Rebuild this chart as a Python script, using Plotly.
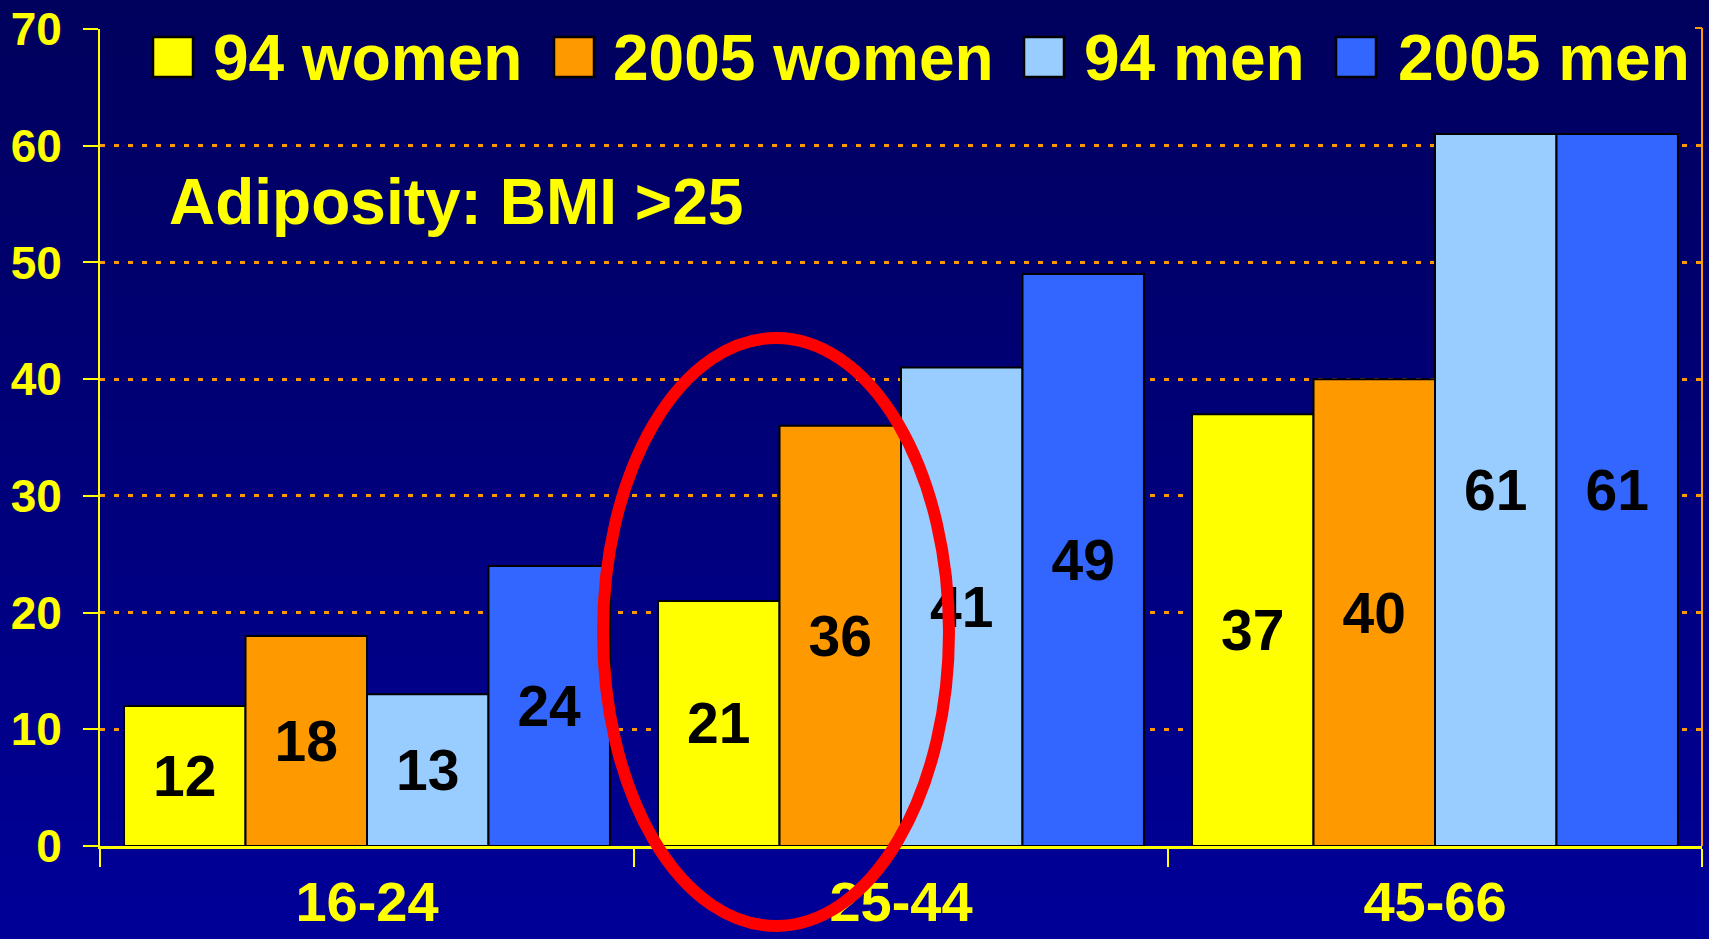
import plotly.graph_objects as go

W, H = 1709, 939
L, R, T, B = 100, 7, 29, 93          # plot area: x 100..1702, y 29..846

age_groups = ["16-24", "25-44", "45-66"]
series_names = ["94 women", "2005 women", "94 men", "2005 men"]
women_94 = [12, 21, 37]
women_2005 = [18, 36, 40]
men_94 = [13, 41, 61]
men_2005 = [24, 49, 61]
y_ticks = [0, 10, 20, 30, 40, 50, 60, 70]

colors = ["#FFFF00", "#FF9900", "#99CCFF", "#3366FF"]
FONT = "Liberation Sans, Arial, sans-serif"
YELLOW = "#FFFF00"
ORANGE = "#FF9900"

pw, ph = W - L - R, H - T - B


def px_x(px):
    return (px - L) / pw


def px_y(py):
    return (H - B - py) / ph


fig = go.Figure()
for name, vals, col in zip(series_names, [women_94, women_2005, men_94, men_2005], colors):
    fig.add_trace(go.Bar(
        x=age_groups, y=vals, name=name, text=vals, texttemplate="%{y}",
        textposition="inside", insidetextanchor="middle", constraintext="none",
        textfont=dict(family=FONT, size=57, color="black", weight="bold"),
        marker=dict(color=col, line=dict(color="black", width=2)),
        showlegend=False,
    ))

shapes = []
# vertical background gradient
n = 47
for i in range(n):
    y0, y1 = i * H / n, (i + 1) * H / n
    b = int(round(92 + 60 * (i + 0.5) / n))
    shapes.append(dict(type="rect", xref="paper", yref="paper", layer="below",
                       x0=px_x(-5), x1=px_x(W + 5), y0=px_y(y1 + 1), y1=px_y(y0),
                       fillcolor=f"rgb(0,0,{b})", line_width=0))
# legend box hiding the top gridline
shapes.append(dict(type="rect", xref="paper", yref="paper", layer="above",
                   x0=px_x(133), x1=px_x(1696), y0=px_y(40), y1=px_y(18),
                   fillcolor="rgb(0,0,94)", line_width=0))
# right frame line
shapes.append(dict(type="line", xref="paper", yref="paper", layer="above",
                   x0=1, x1=1, y0=0, y1=px_y(28), line=dict(color=ORANGE, width=2)))
shapes.append(dict(type="line", xref="paper", yref="paper", layer="above",
                   x0=px_x(1695), x1=1, y0=px_y(28), y1=px_y(28), line=dict(color=ORANGE, width=2)))

# legend squares and labels
leg_sq = [153, 554, 1024, 1336]
leg_tx = [211, 611, 1082, 1396]
annotations = []
for name, col, sx, tx in zip(series_names, colors, leg_sq, leg_tx):
    shapes.append(dict(type="rect", xref="paper", yref="paper", layer="above",
                       x0=px_x(sx), x1=px_x(sx + 40), y0=px_y(77), y1=px_y(37),
                       fillcolor=col, line=dict(color="black", width=2.5)))
    annotations.append(dict(text=name, xref="paper", yref="paper", x=px_x(tx), y=px_y(58),
                            xanchor="left", yanchor="middle", showarrow=False,
                            font=dict(family=FONT, size=64, color=YELLOW, weight="bold")))

annotations.append(dict(text="Adiposity: BMI >25", xref="paper", yref="paper",
                        x=px_x(167), y=px_y(202), xanchor="left", yanchor="middle", showarrow=False,
                        font=dict(family=FONT, size=64, color=YELLOW, weight="bold")))

# red ellipse highlight
shapes.append(dict(type="circle", xref="paper", yref="paper", layer="above",
                   x0=px_x(603), x1=px_x(949), y0=px_y(926), y1=px_y(338),
                   line=dict(color="#FF0000", width=12)))

fig.update_layout(
    width=W, height=H,
    margin=dict(l=L, r=R, t=T, b=B, pad=0),
    paper_bgcolor="rgb(0,0,120)", plot_bgcolor="rgba(0,0,0,0)",
    barmode="group", bargap=0.09, bargroupgap=0,
    shapes=shapes, annotations=annotations,
    uniformtext=dict(mode=False),
)
fig.update_xaxes(
    showline=True, linecolor=YELLOW, linewidth=3, automargin=False,
    ticks="outside", tickson="boundaries", ticklen=18, tickwidth=2, tickcolor=YELLOW,
    tickfont=dict(family=FONT, size=56, color=YELLOW, weight="bold"),
    showgrid=False, ticklabelstandoff=5,
)
fig.update_yaxes(
    range=[0, 70], tickvals=y_ticks, showline=True, linecolor=YELLOW, linewidth=2, automargin=False,
    ticks="outside", ticklen=15, tickwidth=2, tickcolor=YELLOW,
    tickfont=dict(family=FONT, size=46, color=YELLOW, weight="bold"),
    showgrid=True, gridcolor=ORANGE, gridwidth=3, griddash="5px,9px",
    zeroline=False, ticklabelstandoff=12,
)

fig.write_html("out.html", config={"displayModeBar": False},
               post_script="document.body.style.margin='0';")
